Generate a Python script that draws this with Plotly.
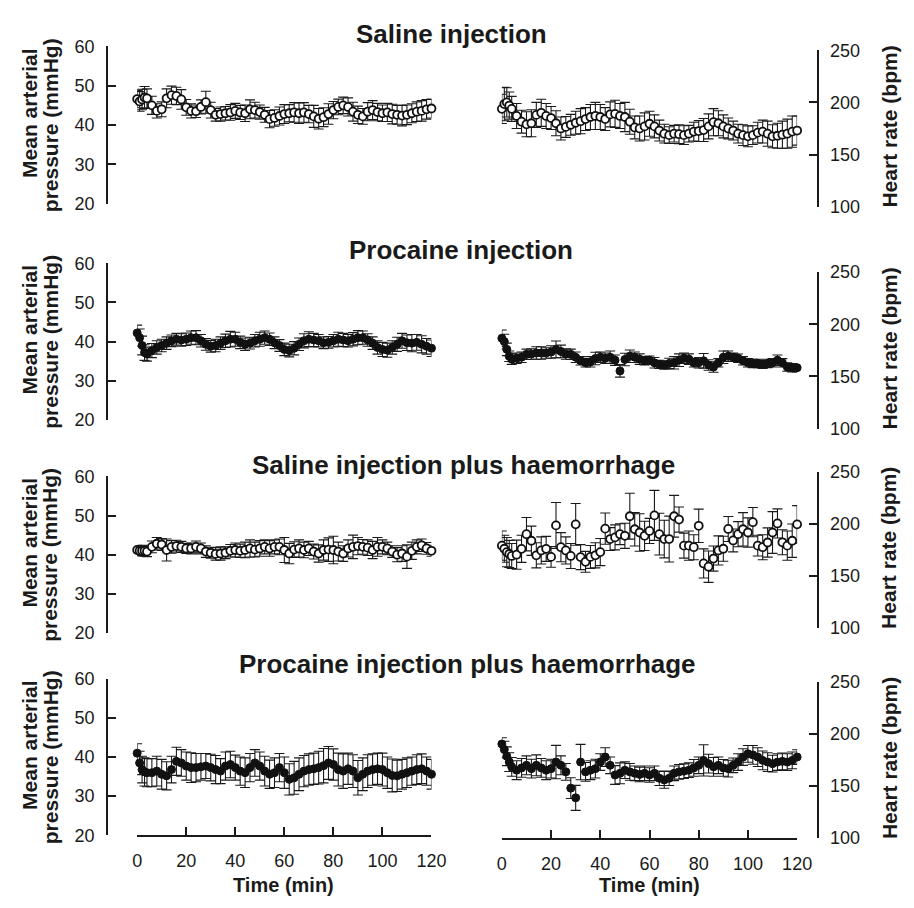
import plotly.graph_objects as go

# ---------------- data ----------------
TIME = [0, 1, 2, 3, 4, 6, 8, 10, 12, 14, 16, 18, 20, 22, 24, 26, 28, 30, 32, 34, 36, 38, 40,
        42, 44, 46, 48, 50, 52, 54, 56, 58, 60, 62, 64, 66, 68, 70, 72, 74, 76, 78, 80,
        82, 84, 86, 88, 90, 92, 94, 96, 98, 100, 102, 104, 106, 108, 110, 112, 114, 116, 118, 120]

ROW_TITLES = ["Saline injection", "Procaine injection",
              "Saline injection plus haemorrhage", "Procaine injection plus haemorrhage"]

MAP_TICKS = [20, 30, 40, 50, 60]
HR_TICKS = [100, 150, 200, 250]
TIME_TICKS = [0, 20, 40, 60, 80, 100, 120]

# Row 1: saline injection
saline_map = [46.6, 46.0, 46.5, 47.0, 46.8,
              45.0, 43.6, 44.0, 46.8, 47.6, 47.4, 46.5, 44.5, 43.6, 43.5,
              44.6, 45.8, 43.8, 42.6, 42.8, 43.0, 43.2, 43.6, 43.2, 43.0,
              44.0, 43.8, 43.3, 42.6, 41.5, 41.8, 42.3, 42.8, 43.0, 43.2,
              43.0, 43.2, 42.8, 42.2, 41.6, 42.0, 42.8, 43.8, 44.6, 45.0,
              44.6, 43.4, 42.6, 42.2, 43.4, 43.8, 43.3, 43.0, 43.2, 42.8,
              42.6, 42.4, 42.6, 43.0, 43.4, 43.6, 44.0, 44.2]
saline_map_err = [2.2, 2.5, 2.6, 2.8, 2.4,
                  2.3, 1.8, 1.9, 2.4, 2.3, 2.2, 2.5, 2.0, 1.8, 1.6,
                  1.8, 2.8, 2.0, 1.6, 1.8, 1.7, 2.0, 1.9, 1.8, 2.1,
                  2.4, 2.0, 1.8, 1.9, 2.2, 2.1, 2.3, 2.4, 2.2, 2.5,
                  2.6, 2.5, 2.2, 2.8, 2.6, 2.4, 2.6, 2.2, 2.0, 2.1,
                  2.3, 2.4, 2.2, 2.0, 2.3, 2.4, 2.2, 2.1, 2.3, 2.5,
                  2.4, 2.6, 2.5, 2.4, 2.5, 2.6, 2.5, 2.4]
saline_hr = [193.8, 198.4, 200.0, 197.0, 193.8,
             187.0, 181.5, 179.0, 180.0, 188.0, 190.0, 187.0, 185.0, 180.0, 175.0,
             176.5, 178.5, 180.5, 182.0, 184.0, 186.0, 187.0, 186.0, 184.0, 188.5,
             189.0, 187.0, 186.0, 181.5, 176.0, 175.0, 177.0, 179.5, 177.0, 173.0,
             170.0, 168.6, 170.0, 169.5, 168.6, 170.0, 172.0, 172.5, 173.5, 177.0,
             181.0, 180.0, 177.0, 175.0, 173.0, 170.0, 168.6, 167.5, 168.6, 171.0,
             172.0, 170.0, 167.5, 168.0, 169.0, 170.0, 172.0, 173.0]
saline_hr_err = [14, 16, 14, 13, 12,
                 12, 11, 12, 13, 12, 13, 12, 11, 12, 11,
                 10, 10, 11, 12, 11, 12, 13, 12, 11, 12,
                 13, 12, 14, 12, 11, 12, 13, 12, 11, 10,
                 9, 8, 8, 9, 9, 8, 9, 10, 11, 12,
                 13, 12, 11, 10, 9, 9, 10, 10, 9, 10,
                 11, 12, 11, 12, 13, 14, 15, 14]

# Row 2: procaine injection
procaine_map = [42.2, 41.0, 39.0, 37.2, 36.8,
                37.7, 38.5, 39.0, 39.6, 40.2, 40.6, 40.4, 40.6, 41.0, 41.0,
                40.2, 39.3, 38.8, 39.0, 39.6, 40.2, 40.6, 40.6, 39.8, 39.3,
                39.6, 40.2, 40.6, 41.0, 40.6, 39.7, 39.0, 38.0, 37.7, 38.3,
                39.3, 40.2, 40.6, 40.4, 40.2, 39.7, 39.8, 40.2, 40.6, 40.4,
                40.2, 40.6, 41.0, 41.0, 40.4, 39.6, 38.5, 38.0, 37.8, 38.5,
                39.3, 40.2, 39.7, 39.6, 39.8, 39.3, 38.8, 38.3]
procaine_map_err = [2.0, 2.2, 2.4, 2.0, 1.8,
                    1.8, 1.7, 1.6, 1.6, 1.5, 1.5, 1.6, 1.6, 1.7, 1.8,
                    1.6, 1.5, 1.5, 1.6, 1.6, 1.7, 2.0, 1.8, 1.6, 1.6,
                    1.5, 1.6, 1.8, 1.7, 1.6, 1.5, 1.5, 1.6, 1.6, 1.7,
                    1.6, 1.8, 1.9, 1.7, 1.6, 1.5, 1.5, 1.6, 1.8, 1.7,
                    1.6, 1.7, 1.8, 1.7, 1.6, 1.6, 1.7, 1.8, 1.8, 1.7,
                    1.8, 1.9, 2.0, 2.2, 2.0, 2.2, 2.0, 2.1]
procaine_hr = [186.6, 183.4, 176.0, 169.4, 166.6,
               167.5, 168.4, 171.2, 171.5, 172.5, 172.5, 172.5, 173.4, 176.0, 174.0,
               171.5, 171.2, 168.4, 165.0, 163.1, 164.0, 167.2, 168.4, 167.5, 168.4,
               165.6, 155.3, 166.3, 169.4, 168.4, 166.6, 165.0, 165.6, 163.1, 161.6,
               161.0, 162.5, 163.1, 165.6, 167.5, 166.6, 163.1, 163.1, 165.0, 161.0,
               159.0, 163.1, 168.4, 169.4, 168.4, 167.5, 165.0, 163.1, 162.5, 162.5,
               161.6, 162.5, 163.1, 165.6, 163.1, 159.0, 158.4, 158.4]
procaine_hr_err = [8, 7, 6, 5, 5,
                   5, 5, 5, 5, 6, 6, 5, 6, 8, 6,
                   5, 5, 5, 4, 4, 5, 6, 5, 5, 6,
                   5, 6, 6, 6, 5, 5, 4, 4, 5, 4,
                   4, 5, 6, 6, 5, 5, 4, 5, 7, 5,
                   5, 4, 6, 5, 4, 4, 4, 4, 4, 4,
                   4, 4, 4, 5, 4, 4, 4, 4]

# Row 3: saline injection plus haemorrhage
saline_haem_map = [41.2, 41.0, 41.0, 41.0, 40.8,
                   42.0, 42.8, 42.6, 41.2, 42.0, 42.2, 42.0, 41.6, 41.6, 42.0,
                   41.6, 40.8, 40.5, 40.2, 40.3, 40.5, 41.0, 41.2, 41.0, 41.2,
                   41.6, 41.3, 41.6, 42.0, 41.6, 42.0, 42.0, 41.2, 40.3, 41.3,
                   41.6, 41.2, 41.6, 40.8, 40.3, 41.2, 41.3, 41.2, 40.8, 40.3,
                   41.6, 42.0, 42.2, 42.0, 41.8, 41.2, 42.0, 42.0, 41.6, 40.8,
                   40.0, 40.3, 39.5, 41.0, 42.0, 42.4, 41.6, 41.0]
saline_haem_map_err = [1.2, 1.2, 1.3, 1.4, 1.3,
                       1.5, 1.6, 1.5, 2.8, 1.6, 1.5, 1.4, 1.3, 1.4, 1.5,
                       1.4, 1.5, 1.4, 1.6, 1.7, 1.5, 1.6, 1.8, 1.7, 2.0,
                       2.2, 1.9, 2.0, 1.8, 2.0, 1.8, 2.0, 3.2, 2.6, 2.0,
                       2.2, 2.0, 1.8, 1.9, 2.2, 2.6, 3.0, 3.5, 2.4, 2.0,
                       2.2, 3.0, 2.2, 1.9, 2.0, 2.2, 2.4, 1.8, 1.6, 1.5,
                       1.8, 2.0, 3.0, 2.2, 1.8, 1.6, 1.5, 1.4]
saline_haem_hr = [179.0, 176.0, 172.8, 171.0, 169.1,
                  170.3, 175.9, 190.0, 183.7, 169.7, 174.4, 175.9, 168.2, 198.4, 177.5,
                  174.4, 169.1, 199.4, 168.0, 163.5, 168.2, 169.7, 172.8, 195.3, 185.3,
                  186.9, 190.0, 188.4, 207.2, 194.7, 191.6, 188.4, 193.1, 208.0, 190.0,
                  185.3, 185.3, 207.2, 204.0, 179.0, 179.0, 177.5, 198.0, 161.9, 158.8,
                  166.6, 174.4, 176.0, 195.0, 184.0, 190.0, 194.7, 191.6, 201.5, 179.0,
                  177.5, 182.0, 191.6, 200.3, 182.2, 179.0, 183.7, 199.4]
saline_haem_hr_err = [14, 13, 14, 13, 12,
                      14, 13, 16, 14, 12, 13, 12, 10, 22, 14,
                      13, 12, 20, 12, 10, 11, 12, 13, 15, 11,
                      12, 10, 12, 22, 16, 18, 14, 12, 24, 20,
                      18, 22, 20, 12, 12, 14, 12, 16, 14, 15,
                      12, 14, 12, 12, 11, 12, 16, 14, 14, 10,
                      12, 14, 20, 14, 12, 14, 16, 18]

# Row 4: procaine injection plus haemorrhage
procaine_haem_map = [41.0, 38.5, 36.8, 36.2, 36.0,
                     36.0, 36.4, 35.6, 35.2, 36.8, 38.9, 38.5, 37.7, 37.3, 37.3,
                     37.5, 37.7, 37.3, 36.8, 36.4, 37.7, 38.1, 37.3, 36.4, 36.0,
                     37.3, 38.5, 37.7, 36.4, 35.6, 36.0, 37.3, 36.0, 34.3, 34.7,
                     35.6, 36.4, 36.8, 37.0, 37.3, 37.8, 38.5, 38.1, 36.8, 36.4,
                     37.0, 36.4, 34.7, 35.6, 36.4, 36.8, 37.0, 36.8, 36.0, 35.3,
                     35.2, 35.6, 36.0, 36.4, 36.8, 37.0, 36.4, 35.6]
procaine_haem_map_err = [2.4, 3.0, 3.4, 3.6, 3.6,
                         3.6, 3.8, 3.8, 3.6, 3.4, 3.6, 3.4, 3.6, 3.8, 3.6,
                         3.4, 3.2, 3.4, 3.6, 3.2, 3.6, 3.4, 3.2, 3.6, 3.8,
                         3.6, 3.4, 3.6, 3.8, 3.6, 3.8, 3.6, 4.0, 4.0, 4.2,
                         4.2, 4.0, 4.0, 4.0, 4.2, 4.4, 4.2, 4.0, 4.2, 4.4,
                         4.0, 4.2, 4.4, 4.2, 4.2, 4.0, 4.0, 4.2, 4.0, 4.2,
                         4.0, 3.8, 3.8, 3.6, 3.8, 3.8, 3.6, 3.8]
procaine_haem_hr = [190.3, 185.0, 178.6, 173.0, 168.4,
                    165.2, 167.4, 169.9, 166.7, 169.9, 167.4, 165.2, 166.7, 173.0, 169.9,
                    163.6, 148.0, 138.7, 173.0, 163.6, 165.2, 166.7, 173.0, 177.8, 169.9,
                    160.6, 162.2, 165.2, 163.6, 162.2, 161.2, 162.2, 160.6, 162.2, 157.5,
                    155.9, 157.5, 162.2, 163.6, 164.3, 165.2, 167.4, 169.9, 174.6, 171.5,
                    168.4, 169.9, 167.4, 166.7, 169.9, 173.0, 177.8, 180.9, 179.9, 177.8,
                    174.6, 173.0, 171.5, 173.0, 173.7, 173.0, 174.6, 177.8]
procaine_haem_hr_err = [6, 8, 9, 9, 9,
                        9, 9, 9, 9, 10, 9, 9, 9, 16, 9,
                        8, 10, 12, 17, 9, 9, 9, 8, 9, 8,
                        9, 10, 8, 8, 7, 7, 7, 7, 7, 7,
                        8, 7, 7, 7, 7, 7, 8, 8, 15, 9,
                        9, 8, 8, 8, 7, 8, 8, 8, 9, 9,
                        9, 9, 8, 8, 8, 8, 8, 7]

# ---------------- layout geometry (window pixels) ----------------
WIN_W, WIN_H = 914, 908
PAGE_MARGIN = 8                      # default body margin of the html page
W, H = WIN_W - 2 * PAGE_MARGIN, WIN_H - 2 * PAGE_MARGIN
FONT = "Liberation Sans, Arial, Helvetica, sans-serif"


def fx(p):
    return (p - PAGE_MARGIN) / W


def fy(p):
    return 1 - (p - PAGE_MARGIN) / H


LEFT_COL = (135, 436)
RIGHT_COL = (508, 810)
LEFT_AXIS_X = 104
RIGHT_AXIS_X = 831
LEFT_ROWS = [(37, 198), (259, 419), (477, 637), (684, 844)]
RIGHT_ROWS = [(41, 201), (268, 428), (472, 632), (687, 847)]
TITLE_POS = [(456, 24), (466, 245), (469, 465), (473, 669)]

panels = [
    (saline_map, saline_map_err, saline_hr, saline_hr_err, True),
    (procaine_map, procaine_map_err, procaine_hr, procaine_hr_err, False),
    (saline_haem_map, saline_haem_map_err, saline_haem_hr, saline_haem_hr_err, True),
    (procaine_haem_map, procaine_haem_map_err, procaine_haem_hr, procaine_haem_hr_err, False),
]

fig = go.Figure()
layout = dict(
    width=W, height=H,
    margin=dict(l=0, r=0, t=0, b=0),
    paper_bgcolor="white", plot_bgcolor="white",
    showlegend=False,
    font=dict(family=FONT, color="#1a1a1a", size=18),
)
annotations = []

AX_COMMON = dict(showgrid=False, zeroline=False, showline=True, linecolor="#1a1a1a",
                 linewidth=1.6, ticks="inside", ticklen=8, tickwidth=1.6,
                 tickcolor="#1a1a1a", tickfont=dict(family=FONT, size=18, color="#1a1a1a"),
                 ticklabelstandoff=8)

for r, (mp, mpe, hr, hre, is_saline) in enumerate(panels):
    for c in range(2):
        k = 2 * r + c + 1
        xa = "x" if k == 1 else f"x{k}"
        ya = "y" if k == 1 else f"y{k}"
        col = LEFT_COL if c == 0 else RIGHT_COL
        rows = LEFT_ROWS if c == 0 else RIGHT_ROWS
        top, bot = rows[r]
        yvals, yerr = (mp, mpe) if c == 0 else (hr, hre)

        if is_saline:
            marker = dict(symbol="circle", size=8, color="white",
                          line=dict(color="#111111", width=1.8))
        else:
            marker = dict(symbol="circle", size=8, color="#111111",
                          line=dict(color="#111111", width=1))

        fig.add_trace(go.Scatter(
            x=TIME, y=yvals, mode="markers", marker=marker,
            error_y=dict(type="data", array=yerr, visible=True, color="#1a1a1a",
                         thickness=1.1, width=5),
            cliponaxis=False, xaxis=xa, yaxis=ya, hoverinfo="x+y",
        ))

        xkey = "xaxis" if k == 1 else f"xaxis{k}"
        ykey = "yaxis" if k == 1 else f"yaxis{k}"
        xdef = dict(domain=[fx(col[0]), fx(col[1])], range=[0, 120], anchor=ya)
        if r == 3:
            xdef.update(AX_COMMON)
            xdef.update(tickmode="array", tickvals=TIME_TICKS)
        else:
            xdef.update(visible=False, showgrid=False, zeroline=False)
        layout[xkey] = xdef

        ydef = dict(AX_COMMON)
        ydef.update(domain=[fy(bot), fy(top)], anchor="free",
                    position=fx(LEFT_AXIS_X if c == 0 else RIGHT_AXIS_X),
                    side="left" if c == 0 else "right",
                    range=[20, 60] if c == 0 else [100, 250],
                    tickmode="array", tickvals=MAP_TICKS if c == 0 else HR_TICKS)
        layout[ykey] = ydef

    # row title
    tx, ty = TITLE_POS[r]
    annotations.append(dict(text=f"<b>{ROW_TITLES[r]}</b>", x=fx(tx), y=fy(ty),
                            xref="paper", yref="paper", showarrow=False,
                            xanchor="center", yanchor="middle",
                            font=dict(family=FONT, size=26, color="#1a1a1a")))
    # left axis title (two lines)
    ltop, lbot = LEFT_ROWS[r]
    lc = (ltop + lbot) / 2
    annotations.append(dict(text="<b>Mean arterial</b>", x=fx(25), y=fy(lc - 12),
                            xref="paper", yref="paper", showarrow=False, textangle=-90,
                            xanchor="center", yanchor="middle",
                            font=dict(family=FONT, size=21, color="#1a1a1a")))
    annotations.append(dict(text="<b>pressure (mmHg)</b>", x=fx(46), y=fy(lc),
                            xref="paper", yref="paper", showarrow=False, textangle=-90,
                            xanchor="center", yanchor="middle",
                            font=dict(family=FONT, size=21, color="#1a1a1a")))
    # right axis title
    rtop, rbot = RIGHT_ROWS[r]
    rc = (rtop + rbot) / 2
    annotations.append(dict(text="<b>Heart rate (bpm)</b>", x=fx(904), y=fy(rc - 2),
                            xref="paper", yref="paper", showarrow=False, textangle=-90,
                            xanchor="center", yanchor="middle",
                            font=dict(family=FONT, size=21, color="#1a1a1a")))

# x-axis titles
for cx in (285, 659):
    annotations.append(dict(text="<b>Time (min)</b>", x=fx(cx), y=fy(895),
                            xref="paper", yref="paper", showarrow=False,
                            xanchor="center", yanchor="middle",
                            font=dict(family=FONT, size=20, color="#1a1a1a")))

layout["annotations"] = annotations
fig.update_layout(**layout)
fig.write_html("out.html")
